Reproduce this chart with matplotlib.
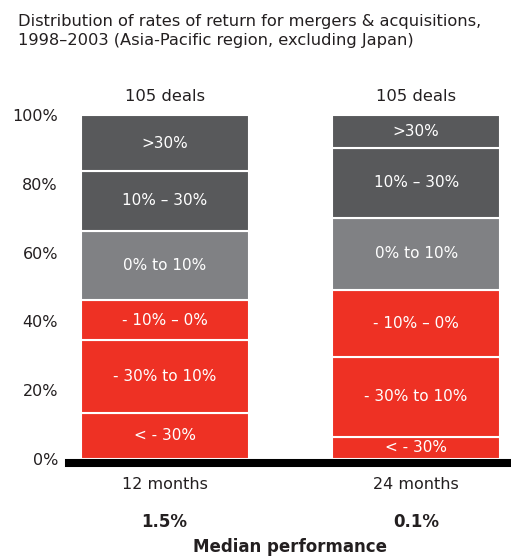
import matplotlib
matplotlib.use("Agg")
import matplotlib.pyplot as plt
import numpy as np

plt.rcParams["font.family"] = ["DejaVu Sans"]

periods = ["12 months", "24 months"]
deal_counts = ["105 deals", "105 deals"]
medians = ["1.5%", "0.1%"]
segment_labels = ["< - 30%", "- 30% to 10%", "- 10% – 0%", "0% to 10%", "10% – 30%", ">30%"]
share_12m = [13.4, 21.2, 11.6, 20.1, 17.4, 16.3]
share_24m = [6.4, 23.3, 19.4, 21.0, 20.3, 9.6]
segment_colors = ["#ee3124", "#ee3124", "#ee3124", "#808184", "#58595b", "#58595b"]
y_ticks = [0, 20, 40, 60, 80, 100]

TEXT = "#231f20"

fig = plt.figure(figsize=(5.11, 5.58), dpi=100)
ax = fig.add_axes([69 / 511, (558 - 459) / 558, (511 - 69) / 511, 344 / 558])

x = np.arange(len(periods))
shares = np.array([share_12m, share_24m])
bottoms = np.zeros(len(periods))
for i, label in enumerate(segment_labels):
    vals = shares[:, i]
    ax.bar(x, vals, bottom=bottoms, width=0.668, color=segment_colors[i],
           edgecolor="white", linewidth=1.5)
    for xi, v, b in zip(x, vals, bottoms):
        ax.text(xi, b + v / 2, label, ha="center", va="center",
                color="white", fontsize=11)
    bottoms += vals

ax.set_xlim(-0.38, 1.377)
ax.set_ylim(0, 100)
ax.set_yticks(y_ticks)
ax.set_yticklabels([f"{t}%" for t in y_ticks], fontsize=11.5, color=TEXT)
ax.tick_params(axis="y", length=0, pad=8)
ax.set_xticks([])
for s in ax.spines.values():
    s.set_visible(False)
# thick black baseline sitting just under the bars
ax.axhline(-1.16, color="black", linewidth=5.8, clip_on=False)

for xi, d, p, m in zip(x, deal_counts, periods, medians):
    ax.text(xi, 105.5, d, ha="center", va="center", fontsize=11.8, color=TEXT)
    ax.text(xi, -7.5, p, ha="center", va="center", fontsize=11.5, color=TEXT)
    ax.text(xi, -18.2, m, ha="center", va="center", fontsize=12,
            fontweight="bold", color=TEXT)

fig.text(290 / 511, 1 - 547 / 558, "Median performance", ha="center", va="center",
         fontsize=12, fontweight="bold", color=TEXT)
fig.text(18 / 511, 1 - 31 / 558,
         "Distribution of rates of return for mergers & acquisitions,\n"
         "1998–2003 (Asia-Pacific region, excluding Japan)",
         ha="left", va="center", fontsize=11.7, color=TEXT, linespacing=1.4)

fig.savefig("out.png", dpi=100)
